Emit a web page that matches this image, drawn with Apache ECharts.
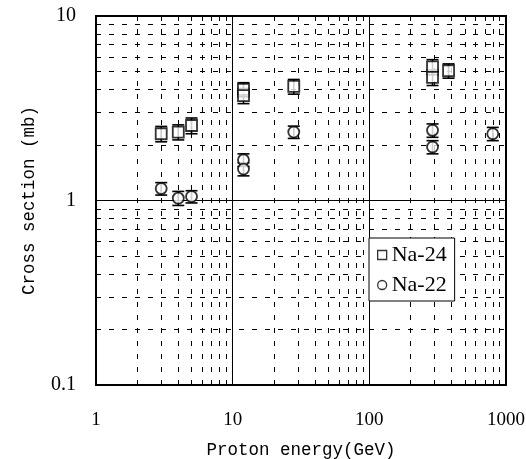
<!DOCTYPE html>
<html>
<head>
<meta charset="utf-8">
<script src="https://cdn.jsdelivr.net/npm/echarts@6/dist/echarts.min.js"></script>
<style>
  html, body { margin: 0; padding: 0; background: #fff; }
  #chart { width: 526px; height: 459px; }
</style>
</head>
<body>
<div id="chart"></div>
<script>
// Na-24 production cross sections (mb) vs proton energy (GeV)
var na24Energy = [3, 4, 5, 12, 12, 28, 290, 290, 380];
var na24Sigma  = [2.3, 2.35, 2.55, 4.0, 3.7, 4.15, 5.3, 4.65, 5.05];
var na24Error  = [0.22, 0.22, 0.25, 0.35, 0.35, 0.38, 0.5, 0.45, 0.45];

// Na-22 production cross sections (mb) vs proton energy (GeV)
var na22Energy = [3, 4, 5, 12, 12, 28, 290, 290, 800];
var na22Sigma  = [1.16, 1.03, 1.05, 1.66, 1.48, 2.35, 2.4, 1.95, 2.3];
var na22Error  = [0.09, 0.09, 0.08, 0.13, 0.12, 0.18, 0.2, 0.16, 0.19];

// Decade ticks and intermediate grid positions
var xDecades = [1, 10, 100, 1000];
var yDecades = [0.1, 1, 10];
var xMinor = [2, 3, 4, 5, 6, 7, 8, 9, 20, 30, 40, 50, 60, 70, 80, 90, 200, 300, 400, 500, 600, 700, 800, 900];
var yMinor = [0.2, 0.3, 0.4, 0.5, 0.6, 0.7, 0.8, 0.9, 2, 3, 4, 5, 6, 7, 8, 9];

function pack(xs, ys, es) {
  return xs.map(function (x, i) { return [x, ys[i], es[i]]; });
}

function errorBars(params, api) {
  var x = api.value(0), y = api.value(1), e = api.value(2);
  var top = api.coord([x, y + e]);
  var bot = api.coord([x, y - e]);
  var hw = 6;
  var style = { stroke: '#000', lineWidth: 1.6, fill: null };
  return {
    type: 'group',
    children: [
      { type: 'line', shape: { x1: top[0], y1: top[1], x2: bot[0], y2: bot[1] }, style: style },
      { type: 'line', shape: { x1: top[0] - hw, y1: top[1], x2: top[0] + hw, y2: top[1] }, style: style },
      { type: 'line', shape: { x1: bot[0] - hw, y1: bot[1], x2: bot[0] + hw, y2: bot[1] }, style: style }
    ]
  };
}

function plainNumber(v) { return String(v); }

var gridLines = [];
xMinor.forEach(function (v) { gridLines.push({ xAxis: v }); });
yMinor.forEach(function (v) { gridLines.push({ yAxis: v }); });

var markerStyle = { color: '#fff', borderColor: '#000', borderWidth: 1.8 };
var legendIcon = { color: '#fff', borderColor: '#000', borderWidth: 1.3 };

var chart = echarts.init(document.getElementById('chart'));
chart.setOption({
  animation: false,
  backgroundColor: '#fff',
  grid: {
    left: 96, right: 20, top: 16, bottom: 74,
    outerBoundsMode: 'none', containLabel: false,
    show: true, borderColor: '#000', borderWidth: 2, backgroundColor: 'transparent'
  },
  xAxis: {
    type: 'log', logBase: 10, min: xDecades[0], max: xDecades[xDecades.length - 1],
    name: 'Proton energy(GeV)', nameLocation: 'middle', nameGap: 56,
    nameTextStyle: { fontFamily: 'Liberation Mono', fontSize: 17.5, color: '#000' },
    axisLine: { show: false },
    axisTick: { show: false },
    axisLabel: { margin: 26, fontFamily: 'Liberation Serif', fontSize: 19, color: '#000', formatter: plainNumber },
    splitLine: { show: true, lineStyle: { color: '#000', width: 1, type: 'solid' } }
  },
  yAxis: {
    type: 'log', logBase: 10, min: yDecades[0], max: yDecades[yDecades.length - 1],
    name: 'Cross section (mb)', nameLocation: 'middle', nameGap: 58,
    nameTextStyle: { fontFamily: 'Liberation Mono', fontSize: 17.5, color: '#000' },
    axisLine: { show: false },
    axisTick: { show: false },
    axisLabel: { margin: 20, fontFamily: 'Liberation Serif', fontSize: 20, color: '#000', formatter: plainNumber },
    splitLine: { show: true, lineStyle: { color: '#000', width: 1, type: 'solid' } }
  },
  legend: {
    orient: 'vertical', left: 369, top: 238, z: 20,
    backgroundColor: '#fff', borderColor: '#000', borderWidth: 1,
    padding: [6, 8, 5, 8], itemGap: 8, itemWidth: 9, itemHeight: 9,
    textStyle: { fontFamily: 'Liberation Serif', fontSize: 22, color: '#000' },
    data: [
      { name: 'Na-24', icon: 'rect', itemStyle: legendIcon },
      { name: 'Na-22', icon: 'circle', itemStyle: legendIcon }
    ]
  },
  series: [
    {
      type: 'line', data: [], silent: true, z: 1,
      markLine: {
        silent: true, symbol: ['none', 'none'], label: { show: false }, z: 1,
        lineStyle: { color: '#000', width: 1, type: [5, 8] },
        emphasis: { disabled: true },
        data: gridLines
      }
    },
    {
      name: 'Na-24 err', type: 'custom', renderItem: errorBars, z: 3,
      data: pack(na24Energy, na24Sigma, na24Error)
    },
    {
      name: 'Na-22 err', type: 'custom', renderItem: errorBars, z: 3,
      data: pack(na22Energy, na22Sigma, na22Error)
    },
    {
      name: 'Na-24', type: 'scatter', symbol: 'rect', symbolSize: [11, 11], z: 5,
      itemStyle: markerStyle,
      data: pack(na24Energy, na24Sigma, na24Error)
    },
    {
      name: 'Na-22', type: 'scatter', symbol: 'circle', symbolSize: 11, z: 5,
      itemStyle: markerStyle,
      data: pack(na22Energy, na22Sigma, na22Error)
    }
  ]
});
</script>
</body>
</html>
